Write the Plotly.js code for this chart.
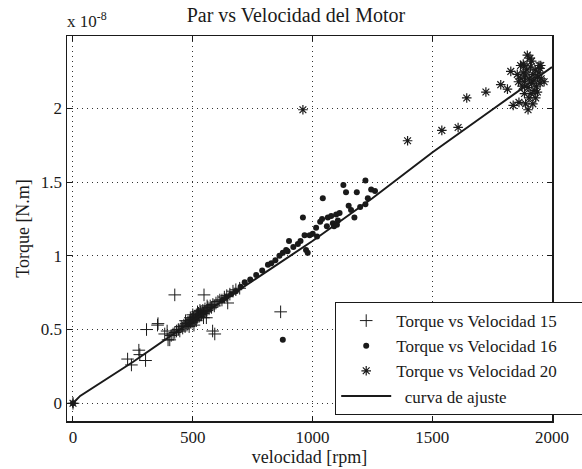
<!DOCTYPE html>
<html>
<head>
<meta charset="utf-8">
<script src="https://cdn.plot.ly/plotly-3.0.1.min.js"></script>
<style>html,body{margin:0;padding:0;background:#fff;}#chart{width:582px;height:469px;}</style>
</head>
<body>
<div id="chart"></div>
<script>
// Velocity in rpm, torque in units of 1e-8 N.m
var x15 = [0, 228, 244, 275, 279, 303, 307, 353, 355, 383, 393, 397, 404, 425, 547, 557, 583, 592, 646, 696, 867,
  410, 418, 425, 432, 440, 446, 452, 458, 463, 468, 472, 476, 480, 484, 488, 491, 494, 497, 500, 503, 506, 509,
  512, 515, 518, 521, 524, 527, 530, 533, 536, 539, 542, 545, 548, 551, 555, 559, 563, 568, 573, 578, 584, 590,
  597, 605, 613, 622, 632, 642, 655, 668, 680, 470, 485, 500, 515, 530, 545, 560, 520, 505, 490];
var y15 = [0, 0.30, 0.26, 0.36, 0.33, 0.29, 0.50, 0.53, 0.54, 0.47, 0.49, 0.43, 0.43, 0.735, 0.735, 0.58, 0.49, 0.47, 0.68, 0.78, 0.62,
  0.46, 0.47, 0.48, 0.49, 0.50, 0.49, 0.52, 0.51, 0.53, 0.52, 0.54, 0.53, 0.55, 0.54, 0.56, 0.55, 0.57, 0.55, 0.57, 0.58, 0.56, 0.59,
  0.57, 0.60, 0.58, 0.59, 0.61, 0.59, 0.60, 0.62, 0.60, 0.61, 0.63, 0.61, 0.62, 0.64, 0.62, 0.63, 0.65, 0.64, 0.66, 0.65, 0.67, 0.66,
  0.68, 0.69, 0.70, 0.70, 0.72, 0.73, 0.74, 0.76, 0.77, 0.56, 0.52, 0.60, 0.56, 0.63, 0.58, 0.66, 0.62, 0.53, 0.58];

var x16 = [0, 625, 640, 660, 680, 700, 717, 740, 765, 790, 814, 828, 845, 862, 876, 890, 896, 902, 920, 939, 950, 960, 967,
  973, 980, 988, 1001, 1015, 1019, 1032, 1040, 1043, 1060, 1064, 1078, 1085, 1090, 1099, 1102, 1106, 1113, 1129, 1140,
  1151, 1161, 1175, 1185, 1199, 1221, 1221, 1231, 1245, 1261, 876];
var y16 = [0, 0.70, 0.72, 0.74, 0.76, 0.79, 0.82, 0.84, 0.87, 0.90, 0.94, 0.95, 0.97, 1.00, 1.02, 1.04, 1.03, 1.10, 1.06, 1.08, 1.10, 1.26, 1.14,
  1.04, 1.02, 1.14, 1.15, 1.19, 1.13, 1.23, 1.25, 1.39, 1.20, 1.26, 1.27, 1.22, 1.20, 1.28, 1.21, 1.24, 1.29, 1.48, 1.43,
  1.34, 1.31, 1.26, 1.43, 1.33, 1.35, 1.51, 1.39, 1.45, 1.44, 0.43];

var x20 = [0, 960, 1397, 1540, 1608, 1644, 1724, 1786, 1814, 1828, 1838, 1862, 1890, 1900, 1897, 1908, 1869, 1946, 1967, 1939,
  1932, 1904, 1870, 1875, 1880, 1885, 1890, 1895, 1900, 1905, 1910, 1915, 1920, 1925, 1930, 1935, 1940, 1945, 1950, 1955,
  1880, 1915, 1925, 1950, 1860, 1855, 1912, 1920, 1885, 1953, 1883];
var y20 = [0, 1.99, 1.78, 1.85, 1.87, 2.07, 2.11, 2.16, 2.13, 2.25, 2.02, 2.04, 2.03, 1.99, 2.36, 2.34, 2.29, 2.29, 2.18, 2.11,
  2.07, 2.07, 2.20, 2.15, 2.24, 2.18, 2.22, 2.26, 2.14, 2.20, 2.28, 2.17, 2.23, 2.19, 2.26, 2.15, 2.21, 2.24, 2.17, 2.20,
  2.30, 2.32, 2.12, 2.27, 2.18, 2.23, 2.10, 2.03, 2.10, 2.29, 2.29];

var xFit = [0, 30, 250, 500, 750, 1000, 1250, 1500, 1750, 2000];
var yFit = [0, 0.05, 0.28, 0.56, 0.83, 1.10, 1.39, 1.70, 1.99, 2.28];

var names = ['Torque vs Velocidad 15', 'Torque vs Velocidad 16', 'Torque vs Velocidad 20', 'curva de ajuste'];
var xTicks = [0, 500, 1000, 1500, 2000];
var yTicks = [0, 0.5, 1, 1.5, 2];
var yTickText = ['0', '0.5', '1', '1.5', '2'];

var ink = '#1a1a1a';
var serif = "'Liberation Serif', 'Times New Roman', serif";
var pad = '\u00a0\u00a0\u00a0\u00a0\u00a0\u00a0';

var traces = [
  {x: x15, y: y15, mode: 'markers', name: names[0] + pad,
   marker: {symbol: 'cross-thin-open', size: 9, color: ink, line: {color: ink, width: 1}}},
  {x: x16, y: y16, mode: 'markers', name: names[1] + pad,
   marker: {symbol: 'circle', size: 6, color: ink, line: {width: 0}}},
  {x: x20, y: y20, mode: 'markers', name: names[2] + pad,
   marker: {symbol: 'asterisk-open', size: 8, color: ink, line: {color: ink, width: 1.2}}},
  {x: xFit, y: yFit, mode: 'lines', name: '\u00a0\u00a0' + names[3],
   line: {color: ink, width: 2}}
];

var axisCommon = {
  showline: true, linecolor: ink, linewidth: 1.5, mirror: 'ticks',
  ticks: 'inside', ticklen: 5, tickcolor: ink, tickwidth: 1,
  showgrid: true, gridcolor: '#333', gridwidth: 1, griddash: '1px,4px',
  zeroline: false, automargin: false,
  tickfont: {family: serif, size: 17, color: ink}
};

var layout = {
  width: 582, height: 469,
  margin: {l: 67, r: 30, t: 36, b: 48, autoexpand: false},
  paper_bgcolor: '#fff', plot_bgcolor: '#fff',
  font: {family: serif, color: ink, size: 17},
  title: {text: 'Par vs Velocidad del Motor', font: {family: serif, size: 20, color: ink},
          x: 0.472, xref: 'paper', xanchor: 'center', y: 0.968, yref: 'container', yanchor: 'middle'},
  xaxis: Object.assign({}, axisCommon, {
    range: [-25, 2000], tickvals: xTicks, ticktext: xTicks.map(String),
    title: {text: 'velocidad [rpm]', font: {family: serif, size: 18, color: ink}, standoff: 0}
  }),
  yaxis: Object.assign({}, axisCommon, {
    range: [-0.12, 2.49], tickvals: yTicks, ticktext: yTickText,
    title: {text: 'Torque [N.m]', font: {family: serif, size: 18, color: ink}, standoff: 6}
  }),
  showlegend: true,
  legend: {x: 0.553, y: 0.309, xanchor: 'left', yanchor: 'top',
           bgcolor: '#fff', bordercolor: ink, borderwidth: 1,
           font: {family: serif, size: 17, color: ink},
           itemwidth: 50, tracegroupgap: 0},
  annotations: [
    {text: 'x 10<sup>-8</sup>', xref: 'paper', yref: 'paper', x: 0, y: 1, xanchor: 'left', yanchor: 'bottom',
     yshift: 3, xshift: -2, showarrow: false, font: {family: serif, size: 17, color: ink}}
  ]
};

Plotly.newPlot('chart', traces, layout, {displayModeBar: false, staticPlot: true});
</script>
</body>
</html>
